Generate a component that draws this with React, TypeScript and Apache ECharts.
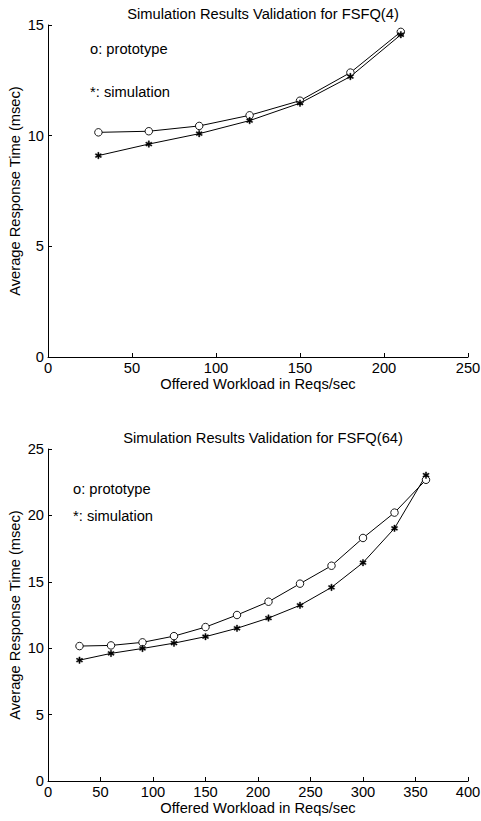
import React, { useEffect, useRef } from "react";
import * as echarts from "echarts";

const workload4 = [30, 60, 90, 120, 150, 180, 210];
const prototype4 = [10.15, 10.2, 10.44, 10.92, 11.58, 12.85, 14.69];
const simulation4 = [9.1, 9.62, 10.09, 10.68, 11.47, 12.67, 14.56];

const workload64 = [30, 60, 90, 120, 150, 180, 210, 240, 270, 300, 330, 360];
const prototype64 = [10.16, 10.21, 10.44, 10.91, 11.59, 12.5, 13.5, 14.86, 16.21, 18.3, 20.21, 22.68];
const simulation64 = [9.1, 9.61, 9.98, 10.38, 10.87, 11.5, 12.27, 13.23, 14.58, 16.44, 19.03, 23.03];

const titles = ["Simulation Results Validation for FSFQ(4)", "Simulation Results Validation for FSFQ(64)"];
const xName = "Offered Workload in Reqs/sec";
const yName = "Average Response Time (msec)";
const protoLabel = "o: prototype";
const simLabel = "*: simulation";

const FONT = "'Liberation Sans', Arial, Helvetica, sans-serif";
const FS = 14.7;
const STAR =
  "path://M-0.55,3L0.55,3L0.55,-3L-0.55,-3Z" +
  "M2.323,1.976L2.873,1.024L-2.323,-1.976L-2.873,-1.024Z" +
  "M-2.873,1.024L-2.323,1.976L2.873,-1.024L2.323,-1.976Z";

function pairs(xs: number[], ys: number[]) {
  return xs.map((x, i) => [x, ys[i]]);
}

export default function App() {
  const ref = useRef<HTMLDivElement>(null);
  useEffect(() => {
    if (!ref.current) return;
    const chart = echarts.init(ref.current, null, { renderer: "svg" });
    const axisCommon = {
      axisLine: { show: true, onZero: false, lineStyle: { color: "#000", width: 1 } },
      axisTick: { show: true, inside: true, length: 4, lineStyle: { color: "#000" } },
      splitLine: { show: false },
      axisLabel: { color: "#000", fontSize: FS, fontFamily: FONT },
      nameTextStyle: { color: "#000", fontSize: FS, fontFamily: FONT },
      nameMoveOverlap: false,
    };
    const xAxis = [
      { ...axisCommon, type: "value", gridIndex: 0, min: 0, max: 250, interval: 50, name: xName, nameLocation: "middle", nameGap: 19, axisLabel: { ...axisCommon.axisLabel, margin: 3 } },
      { ...axisCommon, type: "value", gridIndex: 1, min: 0, max: 400, interval: 50, name: xName, nameLocation: "middle", nameGap: 19, axisLabel: { ...axisCommon.axisLabel, margin: 3 } },
    ];
    const yAxis = [
      { ...axisCommon, type: "value", gridIndex: 0, min: 0, max: 15, interval: 5, name: yName, nameLocation: "middle", nameGap: 26, axisLabel: { ...axisCommon.axisLabel, margin: 4 } },
      { ...axisCommon, type: "value", gridIndex: 1, min: 0, max: 25, interval: 5, name: yName, nameLocation: "middle", nameGap: 26, axisLabel: { ...axisCommon.axisLabel, margin: 4 } },
    ];
    const lineCommon = {
      type: "line",
      lineStyle: { color: "#000", width: 1 },
      emphasis: { disabled: true },
    };
    const protoStyle = { symbol: "circle", symbolSize: 7.5, itemStyle: { color: "#fff", borderColor: "#000", borderWidth: 0.9 } };
    const simStyle = { symbol: STAR, symbolSize: 6.5, itemStyle: { color: "#000", borderColor: "#000", borderWidth: 0.4 } };
    chart.setOption({
      animation: false,
      backgroundColor: "#fff",
      title: [
        { text: titles[0], left: 258, top: 1, textAlign: "center", textStyle: { fontSize: FS, fontWeight: "normal", color: "#000", fontFamily: FONT } },
        { text: titles[1], left: 258, top: 425, textAlign: "center", textStyle: { fontSize: FS, fontWeight: "normal", color: "#000", fontFamily: FONT } },
      ],
      grid: [
        { left: 48, top: 25, width: 420, height: 332, containLabel: false, outerBoundsMode: "none" },
        { left: 48, top: 449, width: 420, height: 332, containLabel: false, outerBoundsMode: "none" },
      ],
      xAxis,
      yAxis,
      graphic: [
        { type: "text", left: 90, top: 41, style: { text: protoLabel, fontSize: FS, fontFamily: FONT, fill: "#000" } },
        { type: "text", left: 90, top: 84, style: { text: simLabel, fontSize: FS, fontFamily: FONT, fill: "#000" } },
        { type: "text", left: 73, top: 481, style: { text: protoLabel, fontSize: FS, fontFamily: FONT, fill: "#000" } },
        { type: "text", left: 73, top: 508, style: { text: simLabel, fontSize: FS, fontFamily: FONT, fill: "#000" } },
      ],
      series: [
        { ...lineCommon, ...protoStyle, xAxisIndex: 0, yAxisIndex: 0, data: pairs(workload4, prototype4) },
        { ...lineCommon, ...simStyle, xAxisIndex: 0, yAxisIndex: 0, data: pairs(workload4, simulation4) },
        { ...lineCommon, ...protoStyle, xAxisIndex: 1, yAxisIndex: 1, data: pairs(workload64, prototype64) },
        { ...lineCommon, ...simStyle, xAxisIndex: 1, yAxisIndex: 1, data: pairs(workload64, simulation64) },
      ],
    });
    return () => chart.dispose();
  }, []);
  return <div ref={ref} style={{ position: "fixed", left: 0, top: 0, width: 481, height: 821 }} />;
}
